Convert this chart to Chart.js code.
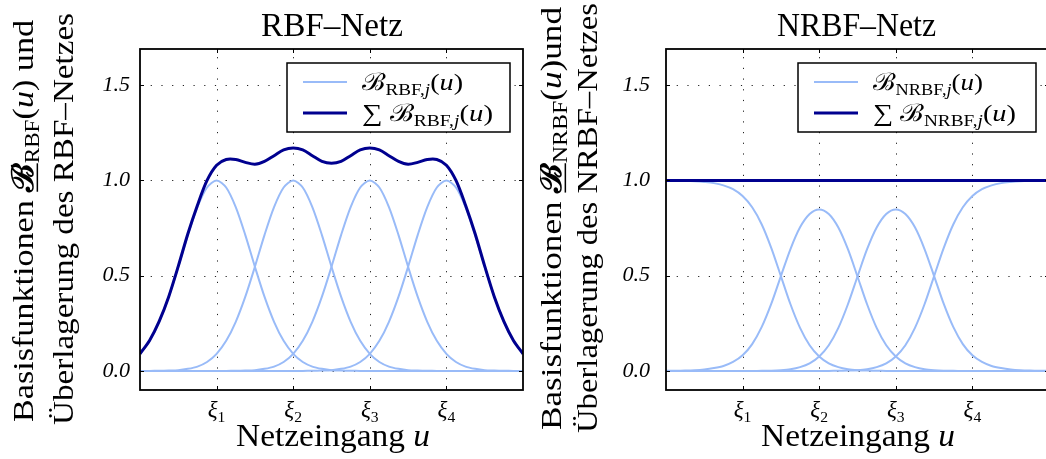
<!DOCTYPE html>
<html>
<head>
<meta charset="utf-8">
<script src="https://cdn.jsdelivr.net/npm/chart.js@4/dist/chart.umd.min.js"></script>
<style>
  body { margin: 0; width: 1046px; height: 459px; overflow: hidden; background: #fff; position: relative; }
  .box { position: absolute; top: 0; height: 459px; }
</style>
</head>
<body>
<div class="box" style="left:0;width:524px"><canvas id="rbf"></canvas></div>
<div class="box" style="left:540px;width:510px"><canvas id="nrbf"></canvas></div>
<script>
// net input u, sampled every 0.125
const xs = [0,0.125,0.25,0.375,0.5,0.625,0.75,0.875,1,1.125,1.25,1.375,1.5,1.625,1.75,1.875,2,2.125,2.25,2.375,2.5,
            2.625,2.75,2.875,3,3.125,3.25,3.375,3.5,3.625,3.75,3.875,4,4.125,4.25,4.375,4.5,4.625,4.75,4.875,5];
const xiTicks = [1,2,3,4];
const xiLabels = ["1","2","3","4"];
const yTicks = [0,0.5,1,1.5];

// RBF net: basis functions and their sum
const rbf1 = [0.090,0.158,0.258,0.390,0.547,0.713,0.860,0.963,1,0.963,0.860,0.713,0.547,0.390,0.258,0.158,0.090,0.047,0.023,0.011,
              0.004,0.002,0.001,0,0,0,0,0,0,0,0,0,0,0,0,0,0,0,0,0,0];
const rbf2 = [0,0,0.001,0.002,0.004,0.011,0.023,0.047,0.090,0.158,0.258,0.390,0.547,0.713,0.860,0.963,1,0.963,0.860,0.713,0.547,
              0.390,0.258,0.158,0.090,0.047,0.023,0.011,0.004,0.002,0.001,0,0,0,0,0,0,0,0,0,0];
const rbf3 = [0,0,0,0,0,0,0,0,0,0,0.001,0.002,0.004,0.011,0.023,0.047,0.090,0.158,0.258,0.390,0.547,
              0.713,0.860,0.963,1,0.963,0.860,0.713,0.547,0.390,0.258,0.158,0.090,0.047,0.023,0.011,0.004,0.002,0.001,0,0];
const rbf4 = [0,0,0,0,0,0,0,0,0,0,0,0,0,0,0,0,0,0,0.001,0.002,0.004,
              0.011,0.023,0.047,0.090,0.158,0.258,0.390,0.547,0.713,0.860,0.963,1,0.963,0.860,0.713,0.547,0.390,0.258,0.158,0.090];
const rbfSum = [0.09,0.16,0.26,0.39,0.55,0.72,0.87,1.00,1.08,1.11,1.11,1.095,1.085,1.10,1.13,1.16,1.17,1.16,1.13,1.10,1.09,
                1.10,1.13,1.16,1.17,1.16,1.13,1.10,1.085,1.095,1.11,1.11,1.08,1.00,0.87,0.72,0.55,0.39,0.26,0.16,0.09];

// NRBF net: normalized basis functions and their sum
const nrbf1 = [0.999,0.999,0.998,0.996,0.992,0.986,0.974,0.954,0.918,0.859,0.769,0.645,0.498,0.350,0.226,0.135,0.076,0.040,0.020,0.009,
               0.004,0.002,0.001,0,0,0,0,0,0,0,0,0,0,0,0,0,0,0,0,0,0];
const nrbf2 = [0.001,0.001,0.002,0.004,0.008,0.015,0.026,0.047,0.082,0.141,0.231,0.353,0.498,0.640,0.754,0.824,0.848,0.824,0.753,0.639,0.496,
               0.350,0.226,0.135,0.076,0.040,0.020,0.009,0.004,0.0015,0.0005,0,0,0,0,0,0,0,0,0,0];
const nrbf3 = [0,0,0,0,0,0,0,0,0,0,0.0005,0.0015,0.004,0.009,0.020,0.040,0.076,0.135,0.226,0.350,0.496,
               0.639,0.753,0.824,0.848,0.824,0.754,0.640,0.498,0.353,0.231,0.141,0.082,0.047,0.026,0.015,0.008,0.004,0.002,0.001,0.001];
const nrbf4 = [0,0,0,0,0,0,0,0,0,0,0,0,0,0,0,0,0,0,0.001,0.002,0.004,
               0.009,0.020,0.040,0.076,0.135,0.226,0.350,0.498,0.645,0.769,0.859,0.918,0.954,0.974,0.986,0.992,0.996,0.998,0.999,0.999];
const nrbfSum = [1,1,1,1,1,1,1,1,1,1,1,1,1,1,1,1,1,1,1,1,1,1,1,1,1,1,1,1,1,1,1,1,1,1,1,1,1,1,1,1,1];

const LIGHT = "#99bbf8";
const DARK = "#00008f";
const FAM = "'Liberation Serif', 'DejaVu Serif', serif";

function segFont(s, size){
  const sz = s.sub ? size*0.68 : size;
  return (s.it ? "italic " : "") + (s.bold ? "bold " : "") + sz + "px " + FAM;
}
// draw a line of text made of segments (plain, italic, subscript, underlined)
function drawRich(ctx, segs, x, y, size, align, fitW){
  let w = 0;
  const ws = segs.map(s => { ctx.font = segFont(s, size); const m = ctx.measureText(s.t).width; w += m; return m; });
  const sx = fitW ? fitW / w : 1;
  ctx.save();
  ctx.translate(x, y);
  ctx.scale(sx, 1);
  let cx = align === "center" ? -w/2 : (align === "right" ? -w : 0);
  ctx.textAlign = "left"; ctx.textBaseline = "alphabetic"; ctx.fillStyle = "#000";
  segs.forEach((s, i) => {
    ctx.font = segFont(s, size);
    ctx.fillText(s.t, cx, s.sub ? size*0.2 : 0);
    if (s.ul) ctx.fillRect(cx, size*0.12, ws[i], Math.max(1.5, size*0.05));
    cx += ws[i];
  });
  ctx.restore();
  return w * sx;
}

function makeDeco(cfg){
  return {
    id: "deco",
    beforeDatasetsDraw(chart){
      const {ctx, chartArea: a, scales: {x, y}} = chart;
      ctx.save();
      ctx.strokeStyle = "#222"; ctx.lineWidth = 1; ctx.setLineDash([1.2, 9.5]);
      xiTicks.forEach(v => { const px = Math.round(x.getPixelForValue(v)) + 0.5; ctx.beginPath(); ctx.moveTo(px, a.bottom); ctx.lineTo(px, a.top); ctx.stroke(); });
      yTicks.forEach(v => { const py = Math.round(y.getPixelForValue(v)) + 0.5; ctx.beginPath(); ctx.moveTo(a.left, py); ctx.lineTo(a.right, py); ctx.stroke(); });
      ctx.restore();
    },
    afterDraw(chart){
      const {ctx, chartArea: a, scales: {x, y}} = chart;
      ctx.save();
      // frame and inward ticks
      ctx.strokeStyle = "#000"; ctx.lineWidth = 1.8;
      ctx.strokeRect(a.left, a.top, a.right - a.left, a.bottom - a.top);
      ctx.lineWidth = 1;
      xiTicks.forEach(v => {
        const px = Math.round(x.getPixelForValue(v)) + 0.5;
        ctx.beginPath(); ctx.moveTo(px, a.top); ctx.lineTo(px, a.top + 4); ctx.moveTo(px, a.bottom); ctx.lineTo(px, a.bottom - 4); ctx.stroke();
      });
      yTicks.forEach(v => {
        const py = Math.round(y.getPixelForValue(v)) + 0.5;
        ctx.beginPath(); ctx.moveTo(a.left, py); ctx.lineTo(a.left + 4, py); ctx.moveTo(a.right, py); ctx.lineTo(a.right - 4, py); ctx.stroke();
      });
      // xi tick labels
      xiTicks.forEach((v, i) => {
        drawRich(ctx, [{t: "ξ", it: true}, {t: xiLabels[i], sub: true}], x.getPixelForValue(v), 417, 23, "center");
      });
      // titles
      drawRich(ctx, [{t: cfg.title}], cfg.titleX, 36, 33, "center", cfg.titleW);
      drawRich(ctx, [{t: "Netzeingang "}, {t: "u", it: true}], cfg.xtX, 446, 32, "center", 194);
      cfg.ytitle.forEach(l => {
        ctx.save(); ctx.translate(l.x, l.y); ctx.rotate(-Math.PI/2);
        drawRich(ctx, l.segs, 0, 0, 30, "center", l.w);
        ctx.restore();
      });
      // legend
      const bw = cfg.legendW, bh = 69;
      const bx = a.right - 13 - bw, by = a.top + 14;
      ctx.fillStyle = "#fff"; ctx.fillRect(bx, by, bw, bh);
      ctx.strokeStyle = "#000"; ctx.lineWidth = 1.5; ctx.strokeRect(bx, by, bw, bh);
      cfg.legend.forEach((it, i) => {
        const ly = by + 19 + i*31;
        ctx.strokeStyle = it.color; ctx.lineWidth = it.width;
        ctx.beginPath(); ctx.moveTo(bx + 16, ly); ctx.lineTo(bx + 60, ly); ctx.stroke();
        drawRich(ctx, it.segs, bx + 75, ly + 8, 24, "left", it.w);
      });
      ctx.restore();
    }
  };
}

function line(vals, color, width, order){
  return {
    data: xs.map((x, i) => ({x, y: vals[i]})),
    borderColor: color, borderWidth: width, pointRadius: 0,
    tension: 0.3, fill: false, clip: 0, order
  };
}

function renderChart(id, datasets, yWidth, tickPad, cfg){
  new Chart(document.getElementById(id), {
    type: "line",
    data: { datasets },
    options: {
      responsive: true, maintainAspectRatio: false, animation: false,
      layout: { padding: { top: 49, right: 1, left: 0, bottom: 0 } },
      plugins: { legend: { display: false }, tooltip: { enabled: false } },
      scales: {
        x: {
          type: "linear", min: 0, max: 5,
          afterBuildTicks: s => { s.ticks = xiTicks.map(v => ({value: v})); },
          afterFit: s => { s.height = 69; },
          ticks: { display: false }, grid: { display: false }, border: { display: false }
        },
        y: {
          min: -0.1, max: 1.69,
          afterBuildTicks: s => { s.ticks = yTicks.map(v => ({value: v})); },
          afterFit: s => { s.width = yWidth; },
          ticks: { color: "#000", padding: tickPad, callback: v => Number(v).toFixed(1),
                   font: { family: FAM, size: 22, style: "italic" } },
          grid: { display: false, drawTicks: false }, border: { display: false }
        }
      }
    },
    plugins: [makeDeco(cfg)]
  });
}

function legendSegs(sum, net){
  return [...(sum ? [{t: "∑ "}] : []), {t: "ℬ"}, {t: net + ",", sub: true}, {t: "j", sub: true, it: true}, {t: "("}, {t: "u", it: true}, {t: ")"}];
}

renderChart("rbf", [
  line(rbfSum, DARK, 3, 0),
  line(rbf1, LIGHT, 2, 1), line(rbf2, LIGHT, 2, 1), line(rbf3, LIGHT, 2, 1), line(rbf4, LIGHT, 2, 1)
], 140, 10, {
  title: "RBF–Netz", titleX: 332, titleW: 142, xtX: 333, legendW: 223,
  ytitle: [
    {x: 33, y: 221, w: 402, segs: [{t: "Basisfunktionen "}, {t: "ℬ", bold: true, ul: true}, {t: "RBF", sub: true}, {t: "("}, {t: "u", it: true}, {t: ") und"}]},
    {x: 73, y: 219, w: 412, segs: [{t: "Überlagerung des RBF–Netzes"}]}
  ],
  legend: [
    {color: LIGHT, width: 2, w: 101, segs: legendSegs(false, "RBF")},
    {color: DARK, width: 3, w: 131, segs: legendSegs(true, "RBF")}
  ]
});

renderChart("nrbf", [
  line(nrbfSum, DARK, 3, 0),
  line(nrbf1, LIGHT, 2, 1), line(nrbf2, LIGHT, 2, 1), line(nrbf3, LIGHT, 2, 1), line(nrbf4, LIGHT, 2, 1)
], 126, 16, {
  title: "NRBF–Netz", titleX: 316.5, titleW: 159, xtX: 318, legendW: 238,
  ytitle: [
    {x: 21, y: 218.5, w: 423, segs: [{t: "Basisfunktionen "}, {t: "ℬ", bold: true, ul: true}, {t: "NRBF", sub: true}, {t: "("}, {t: "u", it: true}, {t: ")und"}]},
    {x: 57, y: 218, w: 430, segs: [{t: "Überlagerung des NRBF–Netzes"}]}
  ],
  legend: [
    {color: LIGHT, width: 2, w: 110, segs: legendSegs(false, "NRBF")},
    {color: DARK, width: 3, w: 143, segs: legendSegs(true, "NRBF")}
  ]
});
</script>
</body>
</html>
